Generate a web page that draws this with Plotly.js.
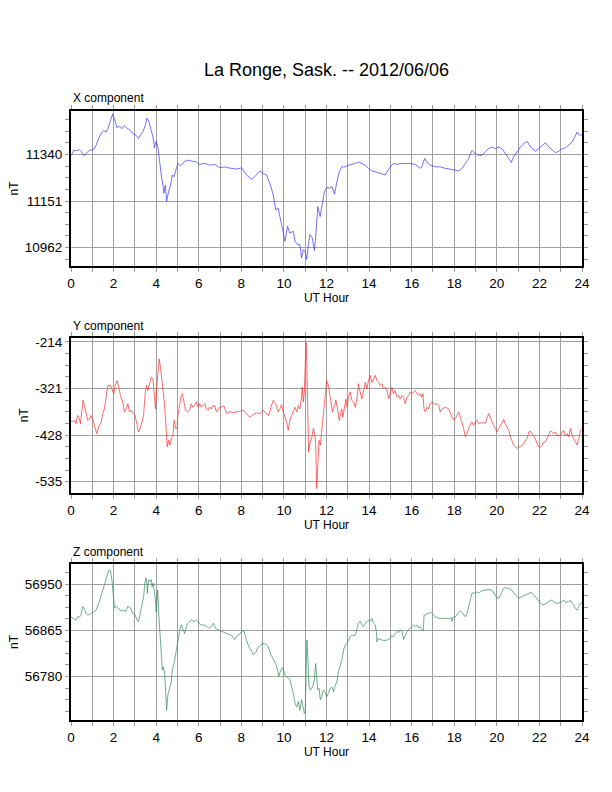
<!DOCTYPE html>
<html>
<head>
<meta charset="utf-8">
<script src="https://cdn.plot.ly/plotly-3.0.1.min.js"></script>
<style>html,body{margin:0;padding:0;background:#fff;}#chart{width:612px;height:792px;}</style>
</head>
<body>
<div id="chart"></div>
<script>
// ---- data ----
const chartTitle = "La Ronge, Sask. -- 2012/06/06";
const panelLabels = ["X component", "Y component", "Z component"];
const xTitleText = "UT Hour";
const yTitleText = "nT";

const xHours = [0.00,0.13,0.24,0.39,0.47,0.60,0.71,0.86,1.07,1.18,1.33,1.44,1.54,1.65,1.73,1.85,1.96,2.04,2.17,2.28,2.39,2.51,2.64,2.75,2.90,3.06,3.17,3.27,3.38,3.49,3.56,3.64,3.74,3.85,3.92,4.00,4.08,4.16,4.24,4.32,4.36,4.43,4.49,4.58,4.68,4.76,4.84,4.95,5.02,5.15,5.31,5.46,5.65,5.89,6.04,6.28,6.51,6.75,6.99,7.22,7.38,7.54,7.77,8.01,8.24,8.48,8.63,8.76,8.87,9.03,9.18,9.34,9.50,9.61,9.73,9.89,10.05,10.17,10.28,10.44,10.52,10.64,10.75,10.83,10.91,10.99,11.07,11.15,11.22,11.33,11.43,11.49,11.59,11.70,11.81,11.90,12.01,12.13,12.25,12.38,12.49,12.60,12.72,12.88,13.03,13.19,13.35,13.50,13.66,13.82,13.97,14.13,14.29,14.52,14.76,14.84,14.99,15.15,15.31,15.54,15.86,16.17,16.40,16.48,16.61,16.72,16.87,17.11,17.34,17.58,17.82,18.05,18.21,18.36,18.52,18.68,18.83,18.99,19.15,19.30,19.46,19.62,19.77,19.93,20.09,20.24,20.40,20.56,20.68,20.79,20.95,21.11,21.26,21.42,21.53,21.66,21.82,21.97,22.13,22.28,22.44,22.60,22.75,22.91,23.07,23.22,23.38,23.54,23.66,23.77,23.88,24.00];
const xVals = [11335,11357,11355,11360,11353,11335,11344,11357,11360,11378,11411,11429,11438,11431,11445,11472,11505,11485,11448,11456,11445,11458,11445,11442,11425,11418,11405,11421,11434,11458,11488,11479,11445,11411,11367,11394,11371,11310,11257,11216,11183,11216,11149,11189,11216,11257,11250,11283,11304,11294,11310,11317,11313,11310,11300,11304,11297,11300,11286,11290,11286,11284,11281,11286,11257,11240,11250,11263,11273,11263,11257,11223,11176,11115,11122,11055,10988,11048,11021,11028,10988,10974,10974,10920,10954,10947,10914,10974,11015,11001,10950,11001,11129,11088,11136,11189,11206,11203,11210,11179,11230,11270,11290,11290,11297,11300,11304,11310,11304,11297,11284,11273,11270,11263,11257,11270,11290,11304,11300,11304,11304,11300,11284,11290,11324,11308,11297,11290,11290,11284,11281,11277,11273,11284,11304,11324,11357,11344,11337,11337,11351,11364,11371,11364,11371,11364,11344,11324,11308,11331,11351,11371,11384,11394,11378,11364,11353,11364,11375,11388,11371,11357,11348,11353,11364,11367,11380,11391,11411,11431,11418,11421];

const yHours = [0.00,0.08,0.16,0.24,0.31,0.39,0.44,0.50,0.57,0.63,0.71,0.78,0.86,0.94,1.02,1.10,1.21,1.30,1.41,1.49,1.57,1.65,1.73,1.85,1.93,2.01,2.07,2.17,2.24,2.32,2.43,2.51,2.59,2.67,2.75,2.83,2.94,3.01,3.11,3.17,3.27,3.34,3.41,3.49,3.55,3.61,3.69,3.77,3.85,3.92,3.97,4.02,4.08,4.14,4.21,4.27,4.33,4.40,4.46,4.52,4.58,4.65,4.71,4.79,4.84,4.91,4.98,5.02,5.10,5.18,5.23,5.31,5.38,5.46,5.57,5.65,5.73,5.81,5.89,5.97,6.04,6.12,6.20,6.28,6.36,6.44,6.51,6.59,6.67,6.75,6.83,6.91,6.99,7.06,7.19,7.30,7.46,7.61,7.77,7.93,8.08,8.24,8.40,8.56,8.71,8.87,9.03,9.18,9.29,9.39,9.50,9.61,9.73,9.81,9.89,9.97,10.05,10.13,10.20,10.28,10.36,10.44,10.52,10.60,10.68,10.75,10.83,10.86,10.91,10.96,11.00,11.04,11.07,11.11,11.16,11.22,11.30,11.38,11.43,11.49,11.54,11.59,11.65,11.71,11.77,11.85,11.93,12.01,12.09,12.17,12.28,12.38,12.44,12.52,12.60,12.66,12.72,12.77,12.83,12.91,12.97,13.03,13.11,13.19,13.27,13.35,13.43,13.50,13.58,13.66,13.74,13.82,13.90,13.97,14.05,14.13,14.21,14.29,14.37,14.45,14.52,14.60,14.68,14.76,14.84,14.92,14.99,15.07,15.15,15.23,15.31,15.39,15.46,15.54,15.62,15.70,15.78,15.86,15.93,16.01,16.09,16.17,16.25,16.33,16.40,16.48,16.53,16.58,16.64,16.72,16.80,16.87,16.95,17.03,17.11,17.19,17.27,17.34,17.42,17.58,17.74,17.89,17.97,18.05,18.13,18.21,18.29,18.36,18.44,18.52,18.60,18.68,18.76,18.83,18.91,18.99,19.07,19.15,19.23,19.30,19.38,19.46,19.54,19.62,19.70,19.77,19.85,19.93,20.01,20.09,20.17,20.24,20.32,20.40,20.48,20.56,20.64,20.71,20.79,20.87,20.95,21.03,21.11,21.18,21.26,21.34,21.42,21.50,21.58,21.66,21.73,21.81,21.89,21.97,22.05,22.13,22.20,22.28,22.36,22.44,22.52,22.60,22.67,22.75,22.83,22.91,22.99,23.07,23.14,23.22,23.30,23.38,23.46,23.54,23.61,23.69,23.77,23.85,23.93,24.00];
const yVals = [-394,-398,-394,-402,-383,-389,-402,-379,-348,-360,-379,-394,-392,-383,-392,-409,-425,-409,-400,-379,-368,-341,-314,-314,-322,-333,-314,-303,-318,-337,-352,-375,-368,-356,-375,-371,-379,-383,-406,-421,-409,-394,-383,-329,-314,-326,-307,-295,-299,-337,-368,-322,-276,-253,-276,-310,-329,-360,-421,-455,-440,-451,-436,-428,-394,-413,-413,-383,-360,-337,-333,-356,-371,-375,-371,-356,-364,-360,-352,-364,-356,-364,-360,-356,-368,-371,-364,-368,-360,-361,-375,-368,-364,-364,-361,-379,-374,-377,-375,-374,-371,-379,-387,-381,-377,-379,-371,-379,-383,-364,-348,-356,-375,-368,-358,-375,-387,-398,-417,-394,-383,-375,-364,-375,-360,-368,-341,-318,-352,-329,-253,-215,-253,-383,-467,-448,-436,-413,-421,-444,-551,-497,-440,-451,-421,-383,-337,-303,-314,-345,-375,-360,-348,-368,-394,-379,-368,-387,-364,-345,-364,-341,-329,-348,-352,-364,-345,-310,-329,-345,-326,-307,-322,-303,-291,-307,-299,-291,-303,-307,-314,-310,-322,-318,-326,-345,-333,-318,-333,-326,-341,-337,-345,-337,-341,-356,-341,-337,-329,-333,-329,-326,-333,-337,-333,-341,-333,-368,-375,-364,-368,-356,-352,-356,-358,-356,-360,-375,-368,-364,-368,-387,-394,-390,-383,-375,-387,-398,-413,-432,-425,-413,-402,-398,-406,-398,-394,-402,-398,-402,-398,-402,-387,-379,-390,-398,-406,-413,-421,-413,-406,-398,-392,-402,-409,-417,-432,-440,-451,-455,-459,-455,-455,-451,-448,-440,-436,-421,-419,-425,-429,-436,-448,-455,-455,-451,-444,-444,-436,-425,-419,-421,-425,-421,-429,-429,-429,-421,-417,-429,-425,-432,-413,-429,-436,-444,-451,-436,-417,-413];

const zHours = [0.00,0.08,0.16,0.24,0.31,0.39,0.47,0.55,0.63,0.71,0.78,0.86,1.02,1.18,1.33,1.49,1.60,1.70,1.77,1.85,1.92,1.98,2.04,2.12,2.20,2.28,2.35,2.48,2.57,2.67,2.79,2.90,3.01,3.11,3.17,3.25,3.33,3.41,3.47,3.52,3.56,3.59,3.64,3.70,3.77,3.81,3.86,3.92,3.97,4.00,4.03,4.07,4.11,4.18,4.24,4.29,4.33,4.40,4.44,4.49,4.55,4.63,4.71,4.76,4.80,4.87,4.95,5.02,5.10,5.18,5.26,5.34,5.42,5.49,5.57,5.65,5.78,5.89,5.97,6.09,6.20,6.36,6.47,6.59,6.69,6.78,6.91,7.06,7.22,7.38,7.54,7.69,7.82,7.93,8.04,8.13,8.24,8.35,8.45,8.56,8.67,8.79,8.92,9.01,9.14,9.26,9.39,9.50,9.61,9.70,9.76,9.86,9.95,10.05,10.13,10.20,10.28,10.36,10.44,10.52,10.60,10.68,10.75,10.83,10.91,10.96,11.00,11.04,11.08,11.13,11.18,11.24,11.30,11.37,11.43,11.49,11.54,11.59,11.65,11.71,11.77,11.85,11.93,12.01,12.09,12.17,12.25,12.33,12.41,12.49,12.56,12.64,12.72,12.80,12.88,12.96,13.03,13.11,13.19,13.27,13.35,13.43,13.50,13.58,13.66,13.74,13.82,13.90,13.97,14.05,14.13,14.21,14.29,14.34,14.37,14.41,14.52,14.68,14.84,14.99,15.07,15.15,15.23,15.31,15.39,15.46,15.54,15.62,15.70,15.78,15.86,15.93,16.01,16.09,16.17,16.25,16.33,16.40,16.48,16.55,16.58,16.64,16.72,16.80,16.87,16.95,17.11,17.27,17.42,17.58,17.74,17.86,17.89,17.92,18.02,18.13,18.21,18.29,18.36,18.44,18.52,18.60,18.68,18.76,18.83,18.91,18.99,19.07,19.15,19.23,19.30,19.46,19.62,19.77,19.93,20.01,20.09,20.17,20.24,20.32,20.40,20.48,20.56,20.71,20.87,21.03,21.18,21.34,21.50,21.62,21.73,21.89,22.05,22.13,22.28,22.44,22.60,22.75,22.91,23.07,23.14,23.22,23.38,23.46,23.54,23.61,23.69,23.77,23.85,23.93,24.00];
const zVals = [56889,56887,56885,56884,56890,56889,56893,56909,56904,56896,56893,56894,56898,56902,56918,56939,56952,56964,56975,56975,56958,56933,56906,56909,56906,56904,56901,56902,56899,56909,56906,56896,56893,56884,56881,56896,56915,56927,56952,56961,56952,56933,56958,56955,56958,56945,56952,56939,56921,56899,56927,56939,56902,56853,56810,56792,56798,56786,56755,56718,56746,56761,56770,56792,56798,56810,56829,56847,56863,56875,56866,56859,56872,56878,56881,56884,56881,56884,56881,56875,56875,56873,56869,56872,56878,56869,56866,56863,56861,56858,56856,56848,56856,56858,56864,56863,56847,56835,56829,56820,56824,56834,56838,56841,56840,56835,56820,56813,56804,56792,56781,56792,56797,56783,56780,56777,56774,56761,56749,56731,56724,56734,56718,56737,56721,56712,56715,56761,56847,56810,56761,56755,56758,56764,56774,56804,56767,56755,56758,56737,56743,56755,56752,56743,56749,56758,56761,56752,56764,56770,56789,56801,56810,56829,56838,56841,56847,56853,56856,56855,56856,56866,56878,56882,56875,56872,56878,56881,56884,56881,56887,56878,56875,56863,56844,56850,56848,56846,56847,56850,56855,56853,56859,56863,56861,56866,56863,56848,56856,56863,56866,56869,56872,56875,56872,56875,56869,56872,56866,56864,56893,56893,56896,56895,56899,56896,56890,56887,56887,56887,56888,56887,56881,56889,56889,56893,56898,56901,56898,56893,56890,56896,56909,56924,56933,56934,56933,56936,56933,56936,56938,56939,56940,56939,56930,56924,56924,56930,56938,56942,56944,56942,56942,56939,56930,56924,56927,56930,56933,56935,56930,56922,56915,56912,56913,56918,56921,56915,56915,56918,56921,56916,56918,56920,56915,56912,56905,56902,56909,56915,56916];

const hourTicks = [0,2,4,6,8,10,12,14,16,18,20,22,24];
const xCompTicks = [10962, 11151, 11340];
const yCompTicks = [-535, -428, -321, -214];
const zCompTicks = [56780, 56865, 56950];

// ---- styling ----
const FONT = "Liberation Sans, Arial, Helvetica, sans-serif";
const GRID = "#a0a0a0";
const TICKC = "#999999";

function xAxisFor(anchor) {
  return {
    anchor: anchor, range: [0, 24], tickmode: "array", tickvals: hourTicks,
    ticktext: hourTicks.map(String),
    ticks: "outside", ticklen: 4, tickcolor: TICKC, tickwidth: 1,
    showline: true, linecolor: "#000", linewidth: 2, mirror: "allticks",
    showgrid: true, gridcolor: GRID, gridwidth: 1, zeroline: false,
    minor: {dtick: 1, tick0: 0, ticks: "outside", ticklen: 4, tickcolor: TICKC, showgrid: true, gridcolor: GRID, gridwidth: 1},
    tickfont: {family: FONT, size: 13.5, color: "#000"},
    title: {text: xTitleText, font: {family: FONT, size: 12, color: "#000"}, standoff: 3}
  };
}
function yAxisFor(anchor, domain, range, tvals) {
  const step = tvals[1] - tvals[0];
  return {
    anchor: anchor, domain: domain, range: range, tickmode: "array", tickvals: tvals,
    ticktext: tvals.map(String),
    ticks: "outside", ticklen: 4, tickcolor: TICKC, tickwidth: 1,
    showline: true, linecolor: "#000", linewidth: 2, mirror: "allticks",
    showgrid: true, gridcolor: GRID, gridwidth: 1, zeroline: false,
    minor: {tick0: tvals[0], dtick: step / 4, ticks: "outside", ticklen: 4, tickcolor: TICKC, showgrid: false},
    tickfont: {family: FONT, size: 13.5, color: "#000"},
    title: {text: yTitleText, font: {family: FONT, size: 12, color: "#000"}, standoff: 4}
  };
}

const traces = [
  {x: xHours, y: xVals, xaxis: "x", yaxis: "y", type: "scatter", mode: "lines", line: {color: "#3333ff", width: 0.7}, hoverinfo: "skip"},
  {x: yHours, y: yVals, xaxis: "x2", yaxis: "y2", type: "scatter", mode: "lines", line: {color: "#ff2a2a", width: 0.7}, hoverinfo: "skip"},
  {x: zHours, y: zVals, xaxis: "x3", yaxis: "y3", type: "scatter", mode: "lines", line: {color: "#2e8b57", width: 0.7}, hoverinfo: "skip"}
];

const layout = {
  width: 612, height: 792,
  margin: {l: 71, r: 30, t: 0, b: 0},
  paper_bgcolor: "#fff", plot_bgcolor: "#fff",
  showlegend: false,
  font: {family: FONT, color: "#000"},
  title: {text: chartTitle, font: {family: FONT, size: 18, color: "#000"}, xref: "paper", x: 0.5, xanchor: "center", yref: "container", y: 1 - 69.5 / 792, yanchor: "middle"},
  xaxis: xAxisFor("y"),
  xaxis2: xAxisFor("y2"),
  xaxis3: xAxisFor("y3"),
  yaxis: yAxisFor("x", [0.66414, 0.85985], [10887, 11517], xCompTicks),
  yaxis2: yAxisFor("x2", [0.37753, 0.57386], [-561, -204], yCompTicks),
  yaxis3: yAxisFor("x3", [0.09091, 0.28788], [56700, 56987], zCompTicks),
  annotations: [
    {text: panelLabels[0], xref: "paper", yref: "paper", x: 0, y: 1 - 107 / 792, xanchor: "left", yanchor: "bottom", showarrow: false, font: {family: FONT, size: 12, color: "#000"}},
    {text: panelLabels[1], xref: "paper", yref: "paper", x: 0, y: 1 - 334.5 / 792, xanchor: "left", yanchor: "bottom", showarrow: false, font: {family: FONT, size: 12, color: "#000"}},
    {text: panelLabels[2], xref: "paper", yref: "paper", x: 0, y: 1 - 561 / 792, xanchor: "left", yanchor: "bottom", showarrow: false, font: {family: FONT, size: 12, color: "#000"}}
  ]
};

Plotly.newPlot("chart", traces, layout, {staticPlot: true, displayModeBar: false});
</script>
</body>
</html>
